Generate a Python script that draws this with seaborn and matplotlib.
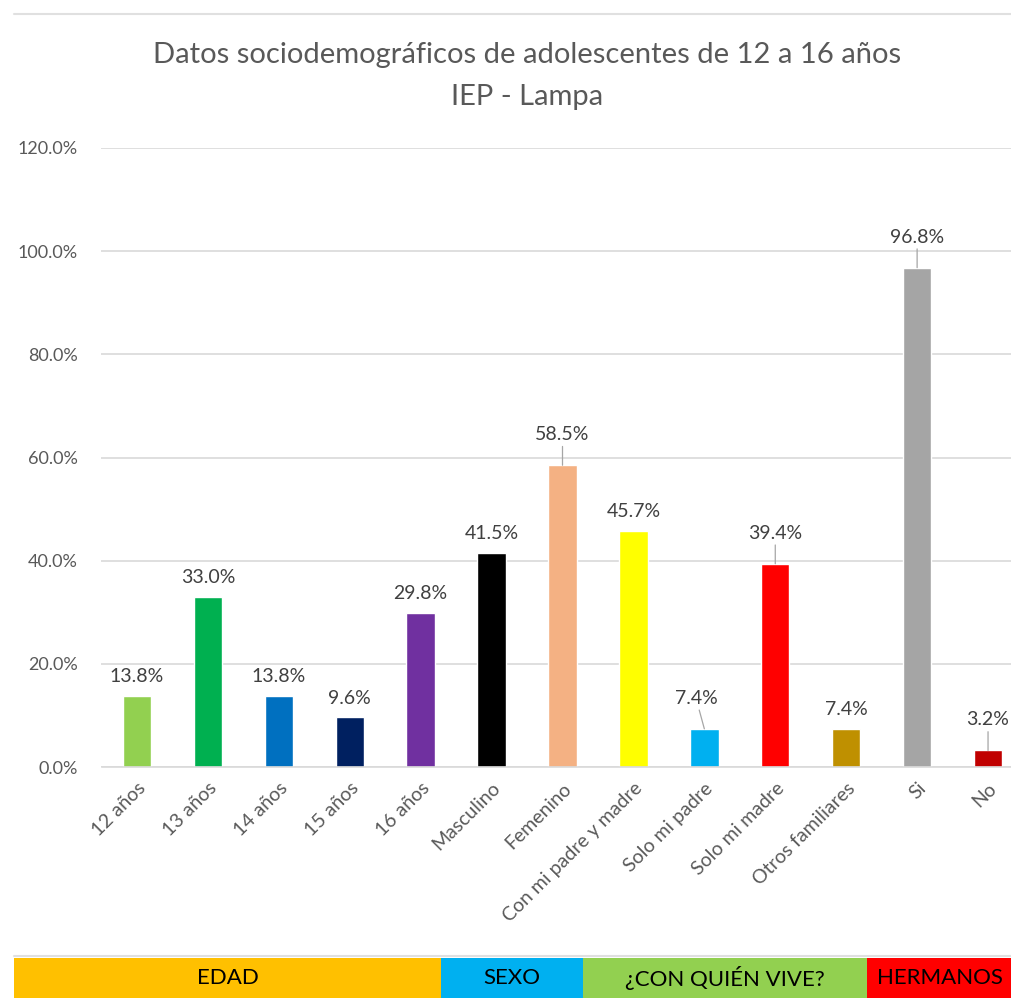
import seaborn as sns
import matplotlib.pyplot as plt
import pandas as pd
from matplotlib.patches import Rectangle

categorias = ["12 años", "13 años", "14 años", "15 años", "16 años",
              "Masculino", "Femenino", "Con mi padre y madre", "Solo mi padre",
              "Solo mi madre", "Otros familiares", "Si", "No"]
valores = [13.8, 33.0, 13.8, 9.6, 29.8, 41.5, 58.5, 45.7, 7.4, 39.4, 7.4, 96.8, 3.2]
colores = ["#92D050", "#00B050", "#0070C0", "#002060", "#7030A0", "#000000",
           "#F4B183", "#FFFF00", "#00B0F0", "#FF0000", "#BF9000", "#A5A5A5", "#C00000"]
# labels drawn with a small leader line
con_linea = ["Femenino", "Solo mi padre", "Solo mi madre", "Si", "No"]

grupos = ["EDAD", "SEXO", "¿CON QUIÉN VIVE?", "HERMANOS"]
grupos_color = ["#FFC000", "#00B0F0", "#92D050", "#FF0000"]
grupos_px = [(14, 441), (441, 583), (583, 867), (867, 1012)]

sns.set_style("white")
plt.rcParams["font.family"] = ["Lato", "DejaVu Sans"]

df = pd.DataFrame({"cat": categorias, "val": valores})

fig = plt.figure(figsize=(10.12, 10), dpi=100)
ax = fig.add_axes([101.5 / 1012, 0.233, 922 / 1012, 0.619])

sns.barplot(data=df, x="cat", y="val", hue="cat",
            palette=dict(zip(categorias, colores)), width=0.4,
            legend=False, ax=ax, saturation=1)

ax.set_ylim(0, 120)
ax.set_xlim(-0.5, len(categorias) - 0.5)
ax.set_yticks(range(0, 121, 20))
ax.set_yticklabels([f"{t:.1f}%" for t in range(0, 121, 20)])
ax.yaxis.grid(True, color="#D9D9D9", lw=1.2)
ax.set_axisbelow(True)
for s in ["top", "right", "left"]:
    ax.spines[s].set_visible(False)
ax.spines["bottom"].set_color("#D9D9D9")
ax.spines["bottom"].set_linewidth(1.2)
ax.tick_params(axis="y", length=0, pad=17, labelsize=13, labelcolor="#595959")
ax.tick_params(axis="x", length=0, pad=9, labelsize=14, labelcolor="#595959")
plt.setp(ax.get_xticklabels(), rotation=45, ha="right", rotation_mode="anchor")
ax.set_xlabel("")
ax.set_ylabel("")

for i, (c, v) in enumerate(zip(categorias, valores)):
    if c in con_linea:
        dx = -6 if c == "Solo mi padre" else 0
        ax.annotate(f"{v:.1f}%", xy=(i, v), xytext=(dx, 22), textcoords="offset points",
                    ha="center", va="center", fontsize=14, color="#404040",
                    arrowprops=dict(arrowstyle="-", color="#A6A6A6", lw=0.9,
                                    shrinkA=0, shrinkB=0))
    else:
        ax.annotate(f"{v:.1f}%", xy=(i, v), xytext=(0, 14), textcoords="offset points",
                    ha="center", va="center", fontsize=14, color="#404040")

fig.text(527 / 1012, 1 - 55 / 1000, "Datos sociodemográficos de adolescentes de 12 a 16 años",
         ha="center", va="center", fontsize=21, color="#595959")
fig.text(527 / 1012, 1 - 97 / 1000, "IEP - Lampa",
         ha="center", va="center", fontsize=21, color="#595959")

# excel cell borders
fig.add_artist(plt.Line2D([14 / 1012, 1], [1 - 14 / 1000] * 2, color="#E0E0E0", lw=1.5,
                          transform=fig.transFigure))
fig.add_artist(plt.Line2D([14 / 1012, 1], [1 - 956 / 1000] * 2, color="#E0E0E0", lw=1.5,
                          transform=fig.transFigure))

for g, col, (x0, x1) in zip(grupos, grupos_color, grupos_px):
    fig.add_artist(Rectangle((x0 / 1012, 1 - 998 / 1000), (x1 - x0) / 1012, 40 / 1000,
                             facecolor=col, edgecolor="none", transform=fig.transFigure))
    fig.text((x0 + x1) / 2 / 1012, 1 - 978 / 1000, g, ha="center", va="center",
             fontsize=16, color="#000000")

fig.savefig("out.png", dpi=100)
